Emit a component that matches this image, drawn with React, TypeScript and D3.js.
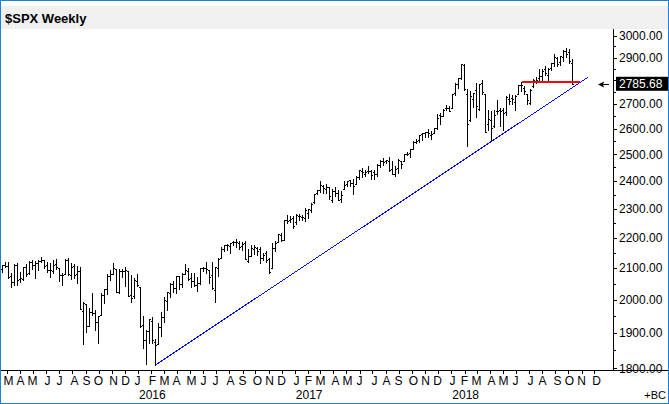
import * as d3 from 'd3';
import { useEffect } from 'react';

type Bar = [string, number, number, number, number]; // week ending, open, high, low, close

const bars2015: Bar[] = [
  ['2015-02-20', 2096.5, 2110.6, 2085.4, 2110.3],
  ['2015-02-27', 2109.8, 2119.6, 2103.2, 2104.5],
  ['2015-03-06', 2105.2, 2117.5, 2067.3, 2071.26],
  ['2015-03-13', 2072.8, 2083.5, 2039.7, 2053.4],
  ['2015-03-20', 2055.4, 2113.9, 2046.8, 2108.1],
  ['2015-03-27', 2108.0, 2114.9, 2045.5, 2061.02],
  ['2015-04-03', 2064.1, 2088.2, 2056.1, 2066.96],
  ['2015-04-10', 2064.9, 2102.6, 2061.9, 2102.06],
  ['2015-04-17', 2102.0, 2111.9, 2072.5, 2081.18],
  ['2015-04-24', 2082.1, 2120.9, 2079.3, 2117.69],
  ['2015-05-01', 2119.3, 2125.9, 2096.8, 2108.29],
  ['2015-05-08', 2108.4, 2120.9, 2067.9, 2116.1],
  ['2015-05-15', 2115.6, 2123.9, 2093.3, 2122.73],
  ['2015-05-22', 2122.7, 2134.7, 2117.5, 2126.06],
  ['2015-05-29', 2125.3, 2126.2, 2099.2, 2107.39],
  ['2015-06-05', 2108.6, 2117.6, 2085.7, 2092.83],
  ['2015-06-12', 2092.3, 2115.0, 2072.1, 2094.11],
  ['2015-06-19', 2091.3, 2126.6, 2084.0, 2109.99],
  ['2015-06-26', 2112.5, 2129.9, 2097.8, 2101.49],
  ['2015-07-03', 2098.6, 2098.6, 2056.6, 2076.78],
  ['2015-07-10', 2075.6, 2083.6, 2044.0, 2076.62],
  ['2015-07-17', 2080.0, 2129.0, 2080.0, 2126.64],
  ['2015-07-24', 2126.8, 2132.8, 2077.2, 2079.65],
  ['2015-07-31', 2078.2, 2114.2, 2063.5, 2103.84],
  ['2015-08-07', 2104.5, 2112.7, 2067.9, 2077.57],
  ['2015-08-14', 2080.0, 2105.4, 2052.1, 2091.54],
  ['2015-08-21', 2089.7, 2102.9, 1970.9, 1970.89],
  ['2015-08-28', 1965.2, 1993.5, 1867.6, 1988.87],
  ['2015-09-04', 1986.7, 1986.7, 1903.1, 1921.22],
  ['2015-09-11', 1921.8, 1975.0, 1921.8, 1961.05],
  ['2015-09-18', 1963.1, 2020.9, 1953.6, 1958.03],
  ['2015-09-25', 1960.8, 1969.1, 1908.8, 1931.34],
  ['2015-10-02', 1931.9, 1951.4, 1871.9, 1951.36],
  ['2015-10-09', 1954.3, 2020.9, 1954.3, 2014.89],
  ['2015-10-16', 2013.7, 2034.5, 1990.7, 2033.11],
  ['2015-10-23', 2033.5, 2079.7, 2018.2, 2075.15],
  ['2015-10-30', 2075.1, 2094.3, 2059.9, 2079.36],
  ['2015-11-06', 2080.8, 2116.5, 2080.8, 2099.2],
  ['2015-11-13', 2096.6, 2097.1, 2022.6, 2023.04],
  ['2015-11-20', 2022.1, 2097.0, 2019.4, 2089.17],
  ['2015-11-27', 2088.8, 2095.6, 2070.3, 2090.11],
  ['2015-12-04', 2091.0, 2104.3, 2042.4, 2091.69],
  ['2015-12-11', 2090.4, 2090.4, 2012.4, 2012.37],
  ['2015-12-18', 2013.4, 2076.7, 1993.3, 2005.55],
  ['2015-12-25', 2010.3, 2067.7, 2005.9, 2060.99],
];

const bars2016: Bar[] = [
  ['2016-01-01', 2057.8, 2081.6, 2043.6, 2043.94],
  ['2016-01-08', 2038.2, 2038.2, 1918.5, 1922.03],
  ['2016-01-15', 1923.7, 1950.3, 1857.8, 1880.33],
  ['2016-01-22', 1878.9, 1908.9, 1812.3, 1906.9],
  ['2016-01-29', 1906.3, 1940.2, 1872.7, 1940.24],
  ['2016-02-05', 1936.9, 1947.2, 1872.7, 1880.05],
  ['2016-02-12', 1873.3, 1881.6, 1810.1, 1864.78],
  ['2016-02-19', 1868.3, 1930.7, 1868.3, 1917.78],
  ['2016-02-26', 1917.8, 1963.0, 1891.0, 1948.05],
  ['2016-03-04', 1947.1, 2009.1, 1931.8, 1999.99],
  ['2016-03-11', 1996.1, 2022.4, 1969.3, 2022.19],
  ['2016-03-18', 2019.3, 2052.4, 2007.7, 2049.58],
  ['2016-03-25', 2049.8, 2056.6, 2022.3, 2035.94],
  ['2016-04-01', 2036.9, 2075.1, 2021.0, 2072.78],
  ['2016-04-08', 2073.2, 2074.0, 2033.8, 2047.6],
  ['2016-04-15', 2050.2, 2083.2, 2039.7, 2080.73],
  ['2016-04-22', 2078.8, 2111.1, 2078.8, 2091.58],
  ['2016-04-29', 2089.4, 2099.9, 2060.6, 2065.3],
  ['2016-05-06', 2067.2, 2083.4, 2039.5, 2057.14],
  ['2016-05-13', 2057.6, 2084.9, 2043.1, 2046.61],
  ['2016-05-20', 2046.5, 2071.9, 2025.9, 2052.32],
  ['2016-05-27', 2052.2, 2100.0, 2047.3, 2099.06],
  ['2016-06-03', 2100.1, 2104.0, 2088.6, 2099.13],
  ['2016-06-10', 2101.0, 2120.6, 2085.1, 2096.07],
  ['2016-06-17', 2091.8, 2091.8, 2050.4, 2071.22],
  ['2016-06-24', 2075.6, 2120.3, 2032.1, 2037.41],
  ['2016-07-01', 2030.0, 2104.3, 1991.7, 2102.95],
  ['2016-07-08', 2099.3, 2131.7, 2074.0, 2129.9],
  ['2016-07-15', 2131.7, 2169.1, 2131.7, 2161.74],
  ['2016-07-22', 2162.0, 2175.6, 2155.8, 2175.03],
  ['2016-07-29', 2173.7, 2177.1, 2159.8, 2173.6],
  ['2016-08-05', 2173.2, 2183.0, 2147.6, 2182.87],
  ['2016-08-12', 2183.7, 2188.5, 2175.1, 2184.05],
  ['2016-08-19', 2186.1, 2193.8, 2168.5, 2183.87],
  ['2016-08-26', 2181.6, 2187.9, 2160.4, 2169.04],
  ['2016-09-02', 2170.2, 2184.9, 2157.1, 2179.98],
  ['2016-09-09', 2181.6, 2187.9, 2127.8, 2127.81],
  ['2016-09-16', 2120.9, 2163.3, 2119.1, 2139.16],
  ['2016-09-23', 2140.2, 2175.3, 2137.5, 2164.69],
  ['2016-09-30', 2160.4, 2175.3, 2145.2, 2168.27],
  ['2016-10-07', 2164.3, 2169.6, 2142.6, 2153.74],
  ['2016-10-14', 2160.4, 2169.6, 2114.7, 2132.98],
  ['2016-10-21', 2132.6, 2148.4, 2124.4, 2141.16],
  ['2016-10-28', 2148.5, 2154.8, 2120.1, 2126.41],
  ['2016-11-04', 2129.0, 2131.7, 2083.8, 2085.18],
  ['2016-11-11', 2100.6, 2182.3, 2100.6, 2164.45],
  ['2016-11-18', 2165.6, 2189.9, 2156.1, 2181.9],
  ['2016-11-25', 2186.4, 2213.4, 2186.4, 2213.35],
  ['2016-12-02', 2210.2, 2214.1, 2187.4, 2191.95],
  ['2016-12-09', 2190.6, 2259.8, 2190.6, 2259.53],
  ['2016-12-16', 2258.8, 2277.5, 2248.4, 2258.07],
  ['2016-12-23', 2259.0, 2272.6, 2254.5, 2263.79],
  ['2016-12-30', 2266.2, 2273.8, 2233.6, 2238.83],
];

const bars2017: Bar[] = [
  ['2017-01-06', 2251.6, 2282.1, 2245.1, 2276.98],
  ['2017-01-13', 2273.6, 2279.3, 2258.8, 2274.64],
  ['2017-01-20', 2269.1, 2276.1, 2258.4, 2271.31],
  ['2017-01-27', 2267.8, 2301.0, 2257.0, 2294.69],
  ['2017-02-03', 2286.0, 2299.4, 2267.2, 2297.42],
  ['2017-02-10', 2294.3, 2319.2, 2288.5, 2316.1],
  ['2017-02-17', 2321.7, 2351.3, 2321.0, 2351.16],
  ['2017-02-24', 2354.9, 2367.8, 2352.9, 2367.34],
  ['2017-03-03', 2365.2, 2401.0, 2358.6, 2383.12],
  ['2017-03-10', 2380.9, 2383.9, 2354.5, 2372.6],
  ['2017-03-17', 2371.0, 2390.0, 2356.7, 2378.25],
  ['2017-03-24', 2378.2, 2378.8, 2335.7, 2343.98],
  ['2017-03-31', 2329.1, 2370.3, 2322.3, 2362.72],
  ['2017-04-07', 2362.3, 2378.4, 2344.7, 2355.54],
  ['2017-04-14', 2357.2, 2366.4, 2329.0, 2328.95],
  ['2017-04-21', 2332.6, 2361.4, 2322.3, 2348.69],
  ['2017-04-28', 2370.3, 2398.2, 2370.3, 2384.2],
  ['2017-05-05', 2389.7, 2399.3, 2379.8, 2399.29],
  ['2017-05-12', 2401.4, 2403.9, 2381.7, 2390.9],
  ['2017-05-19', 2393.0, 2405.8, 2352.7, 2381.73],
  ['2017-05-26', 2387.2, 2418.7, 2387.2, 2415.82],
  ['2017-06-02', 2415.6, 2440.2, 2405.7, 2439.07],
  ['2017-06-09', 2436.4, 2446.2, 2415.7, 2431.77],
  ['2017-06-16', 2425.9, 2441.0, 2419.4, 2433.15],
  ['2017-06-23', 2437.0, 2453.8, 2428.3, 2438.3],
  ['2017-06-30', 2436.3, 2441.6, 2405.7, 2423.41],
  ['2017-07-07', 2431.4, 2439.0, 2407.7, 2425.18],
  ['2017-07-14', 2424.5, 2463.5, 2418.0, 2459.27],
  ['2017-07-21', 2458.3, 2479.1, 2452.1, 2472.54],
  ['2017-07-28', 2473.0, 2484.0, 2459.9, 2472.1],
  ['2017-08-04', 2475.1, 2478.0, 2468.2, 2476.83],
  ['2017-08-11', 2476.0, 2490.9, 2437.8, 2441.32],
  ['2017-08-18', 2444.7, 2474.9, 2425.6, 2425.55],
  ['2017-08-25', 2425.5, 2454.8, 2417.4, 2443.05],
  ['2017-09-01', 2447.9, 2480.4, 2428.2, 2476.55],
  ['2017-09-08', 2474.4, 2474.4, 2446.6, 2461.43],
  ['2017-09-15', 2474.4, 2500.2, 2474.4, 2500.23],
  ['2017-09-22', 2500.6, 2508.9, 2496.7, 2502.22],
  ['2017-09-29', 2503.3, 2519.4, 2488.0, 2519.36],
  ['2017-10-06', 2521.2, 2552.5, 2520.4, 2549.33],
  ['2017-10-13', 2547.4, 2557.7, 2542.7, 2553.17],
  ['2017-10-20', 2555.7, 2575.4, 2547.9, 2575.21],
  ['2017-10-27', 2578.1, 2583.0, 2557.0, 2581.07],
  ['2017-11-03', 2583.0, 2588.4, 2566.2, 2587.84],
  ['2017-11-10', 2588.2, 2597.0, 2566.3, 2582.3],
  ['2017-11-17', 2576.5, 2590.1, 2557.4, 2578.85],
  ['2017-11-24', 2582.9, 2604.2, 2582.2, 2602.42],
  ['2017-12-01', 2602.7, 2657.7, 2600.2, 2642.22],
  ['2017-12-08', 2657.2, 2665.2, 2620.7, 2651.5],
  ['2017-12-15', 2652.2, 2679.6, 2651.5, 2675.81],
  ['2017-12-22', 2685.5, 2695.0, 2676.3, 2683.34],
  ['2017-12-29', 2684.2, 2692.1, 2673.6, 2673.61],
];

const bars2018: Bar[] = [
  ['2018-01-05', 2683.7, 2743.5, 2682.4, 2743.15],
  ['2018-01-12', 2745.6, 2787.9, 2736.1, 2786.24],
  ['2018-01-19', 2784.0, 2810.3, 2768.6, 2810.3],
  ['2018-01-26', 2809.2, 2872.9, 2808.1, 2872.87],
  ['2018-02-02', 2867.2, 2870.6, 2760.0, 2762.13],
  ['2018-02-09', 2741.1, 2763.4, 2532.7, 2619.55],
  ['2018-02-16', 2636.8, 2754.4, 2631.6, 2732.22],
  ['2018-02-23', 2723.0, 2747.8, 2687.3, 2747.3],
  ['2018-03-02', 2757.4, 2789.2, 2647.3, 2691.25],
  ['2018-03-09', 2681.1, 2786.6, 2675.8, 2786.57],
  ['2018-03-16', 2790.5, 2801.9, 2741.4, 2752.01],
  ['2018-03-23', 2741.4, 2741.4, 2585.9, 2588.26],
  ['2018-03-30', 2619.4, 2674.8, 2593.1, 2640.87],
  ['2018-04-06', 2633.5, 2672.1, 2553.8, 2604.47],
  ['2018-04-13', 2611.3, 2674.7, 2605.8, 2656.3],
  ['2018-04-20', 2670.1, 2717.5, 2660.0, 2670.14],
  ['2018-04-27', 2675.4, 2683.6, 2612.2, 2669.91],
  ['2018-05-04', 2675.0, 2682.9, 2594.6, 2663.42],
  ['2018-05-11', 2669.4, 2732.9, 2655.2, 2727.72],
  ['2018-05-18', 2722.7, 2742.1, 2701.9, 2712.97],
  ['2018-05-25', 2726.0, 2739.2, 2702.6, 2721.33],
  ['2018-06-01', 2709.4, 2736.9, 2676.8, 2734.62],
  ['2018-06-08', 2743.7, 2779.9, 2740.5, 2779.03],
  ['2018-06-15', 2780.2, 2791.5, 2755.6, 2779.66],
  ['2018-06-22', 2765.8, 2775.0, 2742.0, 2754.88],
  ['2018-06-29', 2742.9, 2743.3, 2698.7, 2718.37],
  ['2018-07-06', 2705.0, 2764.4, 2699.0, 2759.82],
  ['2018-07-13', 2775.6, 2804.5, 2770.4, 2801.31],
  ['2018-07-20', 2798.4, 2814.2, 2789.2, 2801.83],
  ['2018-07-27', 2811.0, 2848.0, 2800.7, 2818.82],
  ['2018-08-03', 2819.0, 2848.1, 2795.1, 2840.35],
  ['2018-08-10', 2849.4, 2863.4, 2824.5, 2833.28],
  ['2018-08-17', 2825.2, 2855.6, 2802.5, 2850.13],
  ['2018-08-24', 2853.9, 2876.2, 2845.9, 2874.69],
  ['2018-08-31', 2876.2, 2916.5, 2864.1, 2901.52],
  ['2018-09-07', 2897.0, 2901.5, 2864.1, 2871.68],
  ['2018-09-14', 2880.0, 2906.3, 2868.7, 2904.98],
  ['2018-09-21', 2903.8, 2934.8, 2885.8, 2929.67],
  ['2018-09-28', 2929.6, 2940.9, 2903.3, 2913.98],
  ['2018-10-05', 2926.3, 2939.9, 2874.0, 2885.57],
  ['2018-10-12', 2877.5, 2894.8, 2784.9, 2785.68],
];

const lastPrice = 2785.68;
const priceTicks = [1800, 1900, 2000, 2100, 2200, 2300, 2400, 2500, 2600, 2700, 2800, 2900, 3000];
const minorPriceTicks = [1850, 1950, 2050, 2150, 2250, 2350, 2450, 2550, 2650, 2750, 2850, 2950];
const monthLetters = ['J', 'F', 'M', 'A', 'M', 'J', 'J', 'A', 'S', 'O', 'N', 'D'];
const yearLabels = ['2016', '2017', '2018'];
// trend line through the Feb 2016 and Apr 2018 lows, and the June 2018 high level
const trendLine: [string, number][] = [['2016-02-12', 1810.1], ['2018-11-16', 2814]];
const resistanceLine: [string, number][] = [['2018-06-15', 2791.5], ['2018-10-28', 2791.5]];

const parse = d3.utcParse('%Y-%m-%d');
const font = 'Arial, "Liberation Sans", sans-serif';

export default function App() {
  useEffect(() => {
    document.body.style.margin = '0';
  }, []);

  const width = 669;
  const height = 404;
  const plot = { left: 1, right: 613, top: 29, bottom: 370 };

  const bars = [...bars2015, ...bars2016, ...bars2017, ...bars2018].map(([d, o, h, l, c]) => ({
    date: parse(d) as Date, o, h, l, c,
  }));

  const xScale = d3.scaleUtc()
    .domain([new Date(Date.UTC(2016, 0, 1)), new Date(Date.UTC(2018, 0, 1))])
    .range([138, 138 + (731 * 3) / 7]);

  const yScale = d3.scaleLog()
    .domain([1800, 3000])
    .range([368.3, 35.5]);

  const months = d3.utcMonth.range(new Date(Date.UTC(2015, 2, 1)), new Date(Date.UTC(2019, 0, 1)));
  const line = d3.line<[string, number]>()
    .x(d => xScale(parse(d[0]) as Date))
    .y(d => yScale(d[1]));

  const lastY = yScale(lastPrice);
  // labels hidden behind the last-price box are not drawn
  const labelTicks = priceTicks.filter(t => Math.abs(yScale(t) - lastY) > 12);

  return (
    <svg width={width} height={height} style={{ display: 'block' }} fontFamily={font}>
      <defs>
        <clipPath id="plotClip">
          <rect x={plot.left} y={plot.top} width={plot.right - plot.left} height={plot.bottom - plot.top} />
        </clipPath>
      </defs>
      <rect x={0} y={0} width={width} height={height} fill="#fff" />
      {/* title band */}
      <rect x={1} y={6} width={width - 2} height={23} fill="#f0f0f0" />
      <text x={5} y={23} fontSize={13} fontWeight="bold" fontFamily='"Liberation Sans Narrow", "Arial Narrow", Arial, sans-serif' fill="#000">
        $SPX Weekly
      </text>

      {/* price bars */}
      <g clipPath="url(#plotClip)" shapeRendering="crispEdges">
        {bars.map((b, i) => {
          const px = Math.round(xScale(b.date));
          const yh = Math.round(yScale(b.h));
          const yl = Math.round(yScale(b.l));
          return (
            <g key={i} fill="#000">
              <rect x={px - 1} y={yh} width={1} height={Math.max(1, yl - yh + 1)} />
              <rect x={px - 2} y={Math.round(yScale(b.o))} width={1} height={1} />
              <rect x={px} y={Math.round(yScale(b.c))} width={1} height={1} />
            </g>
          );
        })}
        <path d={line(trendLine) ?? ''} stroke="#0000ff" strokeWidth={1} fill="none" />
        <path d={line(resistanceLine) ?? ''} stroke="#ff0000" strokeWidth={2} fill="none" />
      </g>

      {/* right price axis */}
      <g shapeRendering="crispEdges">
        <line x1={613.5} x2={613.5} y1={plot.top} y2={371} stroke="#000" />
        {priceTicks.map(t => (
          <line key={t} x1={613.5} x2={617} y1={Math.round(yScale(t)) + 0.5} y2={Math.round(yScale(t)) + 0.5} stroke="#000" />
        ))}
        {minorPriceTicks.map(t => (
          <line key={t} x1={613.5} x2={616} y1={Math.round(yScale(t)) + 0.5} y2={Math.round(yScale(t)) + 0.5} stroke="#000" />
        ))}
      </g>
      {labelTicks.map(t => (
        <text key={t} x={619} y={yScale(t) + 4.3} fontSize={12} fill="#000">
          {t.toFixed(2)}
        </text>
      ))}
      <rect x={616} y={lastY - 7} width={52} height={14} fill="#000" />
      <text x={619} y={lastY + 4.3} fontSize={12} fill="#fff">{lastPrice.toFixed(2)}</text>
      <g shapeRendering="crispEdges">
        <line x1={600} x2={609} y1={Math.round(lastY) + 0.5} y2={Math.round(lastY) + 0.5} stroke="#000" />
      </g>
      <path
        d={`M598,${Math.round(lastY) + 0.5} L604,${Math.round(lastY) - 2.5} L603,${Math.round(lastY) + 0.5} L604,${Math.round(lastY) + 3.5} Z`}
        fill="#000"
      />

      {/* time axis */}
      <g shapeRendering="crispEdges">
        <line x1={1} x2={width - 1} y1={370.5} y2={370.5} stroke="#000" />
        {months.map((m, i) => {
          const tx = Math.round(xScale(m)) + 0.5;
          return <line key={i} x1={tx} x2={tx} y1={371} y2={374} stroke="#000" />;
        })}
      </g>
      {months.map((m, i) => {
        const fri = d3.utcFriday.ceil(m);
        return (
          <text key={i} x={xScale(fri) - 0.5} y={384.5} fontSize={12} textAnchor="middle" fill="#000">
            {monthLetters[m.getUTCMonth()]}
          </text>
        );
      })}
      {yearLabels.map(yl => (
        <text key={yl} x={xScale(new Date(Date.UTC(+yl, 0, 1))) + 1} y={398.5} fontSize={12} fill="#000">
          {yl}
        </text>
      ))}
      <text x={666} y={399} fontSize={11} textAnchor="end" fill="#000">+BC</text>

      {/* frame */}
      <rect x={0.5} y={0.5} width={width - 1} height={height - 1} fill="none" stroke="#1f80d8" />
    </svg>
  );
}
